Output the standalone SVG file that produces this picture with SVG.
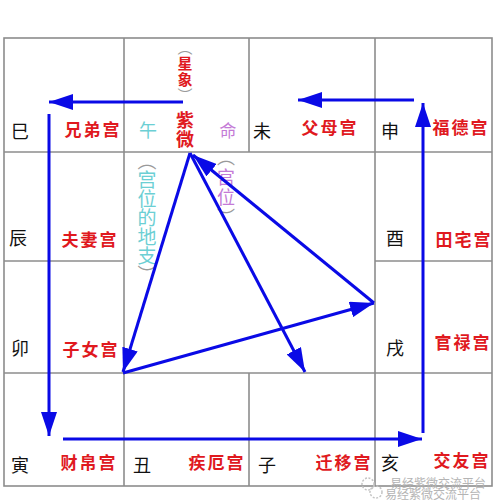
<svg xmlns="http://www.w3.org/2000/svg" width="500" height="504" viewBox="0 0 500 504">
<style>
.grid{stroke:#8c8c8c;stroke-width:1.6;fill:none}
.br{font-family:"Noto Sans CJK SC","Noto Sans",sans-serif;font-size:18px;fill:#111;text-anchor:middle}
.pal{font-family:"Noto Sans CJK SC","Noto Sans",sans-serif;font-size:17px;font-weight:bold;fill:#e0191e;text-anchor:middle;letter-spacing:2px}
.vt{font-family:"Noto Sans CJK SC","Noto Sans",sans-serif;text-anchor:middle}
.vert{font-family:"Noto Sans CJK SC","Noto Sans",sans-serif;writing-mode:vertical-rl;text-anchor:start}
.red{fill:#e0191e;font-weight:bold}
.cyan{fill:#6ccfd4}
.purp{fill:#c47ad6}
.par{fill:#9a9a9a;font-weight:normal}
.arr{stroke:#0a0ae6;stroke-width:3;fill:none;marker-end:url(#ah)}
.wm{font-family:"Noto Sans CJK SC","Noto Sans",sans-serif;font-size:12px;fill:#b4b4b4}
</style>
<defs>
<marker id="ah" markerUnits="userSpaceOnUse" markerWidth="26" markerHeight="16" refX="24" refY="8" orient="auto">
<path d="M0,0 L24,8 L0,16 z" fill="#0a0ae6"/>
</marker>
</defs>
<rect width="500" height="504" fill="#fff"/>
<g id="grid">
<rect class="grid" x="4" y="38" width="488" height="448"/>
<line class="grid" x1="4" y1="152" x2="492" y2="152"/>
<line class="grid" x1="4" y1="373" x2="492" y2="373"/>
<line class="grid" x1="4" y1="261" x2="124" y2="261"/>
<line class="grid" x1="375" y1="261" x2="492" y2="261"/>
<line class="grid" x1="124" y1="38" x2="124" y2="486"/>
<line class="grid" x1="375" y1="38" x2="375" y2="486"/>
<line class="grid" x1="249" y1="38" x2="249" y2="152"/>
<line class="grid" x1="249" y1="373" x2="249" y2="486"/>
</g>
<g id="si"><text class="br" x="20" y="138">巳</text><text class="pal" x="93" y="136">兄弟宫</text></g>
<g id="wu"><text class="vt cyan" x="148" y="137" font-size="18">午</text>
<text class="vert red" x="185" y="111.5" font-size="18" letter-spacing="1">紫微</text>
<text class="vt purp" x="228" y="137" font-size="17">命</text>
<text class="vert red" x="185" y="39.5" font-size="15" letter-spacing="1"><tspan class="par">（</tspan>星象<tspan class="par">）</tspan></text></g>
<g id="wei"><text class="br" x="262" y="138">未</text><text class="pal" x="330" y="134">父母宫</text></g>
<g id="shen"><text class="br" x="390" y="138">申</text><text class="pal" x="461" y="134">福德宫</text></g>
<g id="chen"><text class="br" x="18" y="245">辰</text><text class="pal" x="90" y="246">夫妻宫</text></g>
<g id="you"><text class="br" x="395" y="245">酉</text><text class="pal" x="464" y="246">田宅宫</text></g>
<g id="mao"><text class="br" x="20" y="355">卯</text><text class="pal" x="91" y="356">子女宫</text></g>
<g id="xu"><text class="br" x="395" y="355">戌</text><text class="pal" x="463" y="349">官禄宫</text></g>
<g id="yin"><text class="br" x="20" y="472">寅</text><text class="pal" x="89" y="469">财帛宫</text></g>
<g id="chou"><text class="br" x="142" y="472">丑</text><text class="pal" x="217" y="469">疾厄宫</text></g>
<g id="zi"><text class="br" x="267" y="472">子</text><text class="pal" x="344" y="469">迁移宫</text></g>
<g id="hai"><text class="br" x="390" y="470">亥</text><text class="pal" x="462" y="467">交友宫</text></g>
<g id="center-labels">
<text class="vert cyan" x="147" y="151.5" font-size="19"><tspan class="par">（</tspan>宫位的地支<tspan class="par">）</tspan></text>
<text class="vert purp" x="226" y="148" font-size="18" letter-spacing="2"><tspan class="par">（</tspan>宫位<tspan class="par">）</tspan></text>
</g>
<g id="connectors">
<line class="arr" x1="414" y1="100" x2="298" y2="100"/>
<line class="arr" x1="183" y1="102" x2="49" y2="102"/>
<line class="arr" x1="49" y1="114" x2="49" y2="436"/>
<line class="arr" x1="63" y1="439" x2="422" y2="439"/>
<line class="arr" x1="423" y1="433" x2="423" y2="103"/>
<line class="arr" x1="190" y1="153" x2="123" y2="372"/>
<line class="arr" x1="123" y1="373" x2="374" y2="303"/>
<line class="arr" x1="374" y1="303" x2="193" y2="155"/>
<line class="arr" x1="190" y1="153" x2="305" y2="372"/>
</g>
<g id="watermark">
<circle cx="368" cy="484" r="6" fill="none" stroke="#c4c4c4" stroke-width="1.5" stroke-dasharray="2 1.5"/>
<circle cx="376" cy="492" r="6" fill="none" stroke="#c4c4c4" stroke-width="1.5" stroke-dasharray="2 1.5"/>
<text class="wm" x="390" y="488">易经紫微交流平台</text>
<text class="wm" x="385" y="499">易经紫微交流平台</text>
</g>
</svg>
